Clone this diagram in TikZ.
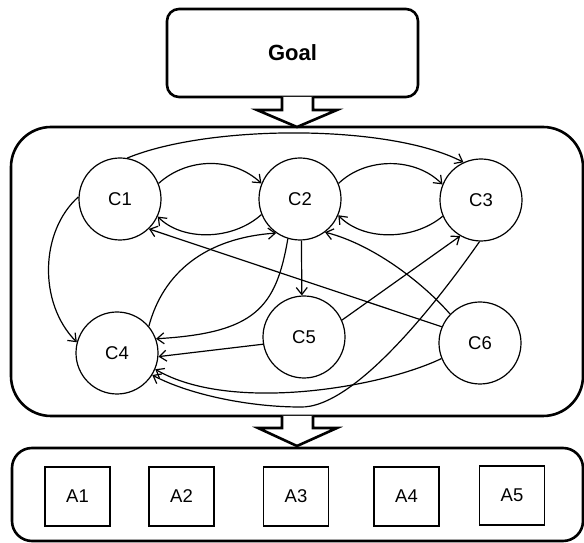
\documentclass[tikz,border=0pt]{standalone}
\usepackage{fontspec}
\setmainfont{Liberation Sans}
\usetikzlibrary{arrows.meta}
\begin{document}
\begin{tikzpicture}[x=1pt,y=1pt,
  thickbox/.style={draw, line width=2.6pt, rounded corners=#1, inner sep=0pt},
  concept/.style={draw, circle, line width=1.2pt, minimum size=82pt, inner sep=0pt, font=\fontsize{18.5}{20}\selectfont},
  actbox/.style={draw, line width=1.6pt, minimum width=65pt, minimum height=59pt, inner sep=0pt, font=\fontsize{18.5}{20}\selectfont},
  conn/.style={line width=1.2pt, -{Straight Barb[length=7pt,width=11pt,line width=1.2pt]}},
  blockarrow/.style={draw, fill=white, line width=2.6pt, line join=miter}]
\useasboundingbox (0,0) rectangle (584,543);
% boxes
\node[thickbox=12pt, minimum width=251pt, minimum height=88pt, font=\bfseries\fontsize{22}{24}\selectfont] (goal) at (292.5,490) {Goal};
\node[thickbox=40pt, minimum width=572pt, minimum height=289pt] (panel) at (297,271.5) {};
\node[thickbox=20pt, minimum width=571pt, minimum height=93pt] (actions) at (297.5,48.5) {};
% block arrows
\draw[blockarrow] (282,446) -- (282,433) -- (257,433) -- (297,416) -- (337,433) -- (313,433) -- (313,446);
\draw[blockarrow] (282,127) -- (282,115) -- (258,115) -- (297,97) -- (337,115) -- (313,115) -- (313,127);
% concepts
\node[concept] (C1) at (120,344) {C1};
\node[concept] (C2) at (300,344) {C2};
\node[concept] (C3) at (481,343) {C3};
\node[concept] (C4) at (117,190) {C4};
\node[concept] (C5) at (304,206) {C5};
\node[concept] (C6) at (480,200) {C6};
% actions
\node[actbox] (A1) at (77.5,46.5) {A1};
\node[actbox] (A2) at (181.5,46.5) {A2};
\node[actbox] (A3) at (296,46.5) {A3};
\node[actbox] (A4) at (406.5,46.5) {A4};
\node[actbox] (A5) at (512,47.5) {A5};
% connectors
\draw[conn] (C1.80) .. controls (210,419) and (390,419) .. (C3.115);
\draw[conn] (C1.22) .. controls (188,386) and (233,386) .. (C2.158);
\draw[conn] (C2.202) .. controls (232,302) and (182,302) .. (C1.335);
\draw[conn] (C2.22) .. controls (366,386) and (415,386) .. (C3.158);
\draw[conn] (C3.203) .. controls (413,302) and (363,302) .. (C2.337);
\draw[conn] (C1.177) .. controls (40,312) and (38,240) .. (C4.165);
\draw[conn] (C4.40) .. controls (163,270) and (205,305) .. (C2.235);
\draw[conn] (C2.253) .. controls (276,235) and (255,210) .. (C4.20);
\draw[conn] (C2.272) -- (C5.93);
\draw[conn] (C5.24) -- (C3.240);
\draw[conn] (C6.157) -- (C1.314);
\draw[conn] (C6.136) .. controls (425,258) and (375,298) .. (C2.307);
\draw[conn] (C5.190) -- (C4.355);
\draw[conn] (C6.202) .. controls (380,155) and (230,130) .. (C4.337);
\coordinate (low) at (300,136);
\draw[conn] (C3.268) .. controls (440,245) and (355,134) .. (low) .. controls (250,136) and (190,148) .. (C4.328);
\end{tikzpicture}
\end{document}
